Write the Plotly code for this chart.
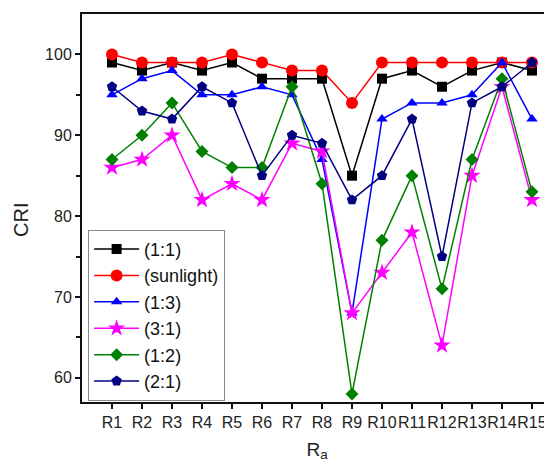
import plotly.graph_objects as go

categories = [f"R{i}" for i in range(1, 16)]
xpos = list(range(1, 16))

s_11 = [99, 98, 99, 98, 99, 97, 97, 97, 85, 97, 98, 96, 98, 99, 98]
s_sun = [100, 99, 99, 99, 100, 99, 98, 98, 94, 99, 99, 99, 99, 99, 99]
s_13 = [95, 97, 98, 95, 95, 96, 95, 87, 68, 92, 94, 94, 95, 99, 92]
s_31 = [86, 87, 90, 82, 84, 82, 89, 88, 68, 73, 78, 64, 85, 96, 82]
s_12 = [87, 90, 94, 88, 86, 86, 96, 84, 58, 77, 85, 71, 87, 97, 83]
s_21 = [96, 93, 92, 96, 94, 85, 90, 89, 82, 85, 92, 75, 94, 96, 99]

series = [
    ("(1:1)", s_11, "#000000", "square", 10),
    ("(sunlight)", s_sun, "#FF0000", "circle", 12),
    ("(1:3)", s_13, "#0000FF", "triangle-up", 10),
    ("(3:1)", s_31, "#FF00FF", "star", 13),
    ("(1:2)", s_12, "#008000", "diamond", 10),
    ("(2:1)", s_21, "#000080", "pentagon", 11),
]

FONT = "'Liberation Sans', Arial, sans-serif"

fig = go.Figure()
for name, vals, col, sym, sz in series:
    fig.add_trace(go.Scatter(
        x=xpos, y=vals, name=name, mode="lines+markers",
        line=dict(color=col, width=1.5),
        marker=dict(symbol=sym, size=sz, color=col),
    ))

fig.update_layout(
    width=552, height=465,
    margin=dict(l=74, r=8, t=6, b=71),
    plot_bgcolor="white", paper_bgcolor="white",
    font=dict(family=FONT, color="#222222", size=16),
    showlegend=True,
    legend=dict(
        x=0.013, y=0.003, xanchor="left", yanchor="bottom",
        bgcolor="white", bordercolor="#888888", borderwidth=1,
        font=dict(family=FONT, size=18, color="#111111"),
        itemwidth=45, tracegroupgap=0,
    ),
    xaxis=dict(
        range=[0, 15.667], tickmode="array", tickvals=xpos, ticktext=categories,
        showgrid=False, zeroline=False, automargin=False, tickangle=0,
        showline=True, linecolor="#111111", linewidth=2, mirror=True,
        ticks="outside", ticklen=5, tickwidth=1.5, tickcolor="#111111",
        tickfont=dict(family=FONT, size=16),
        title=dict(text="R<sub>a</sub>", font=dict(family=FONT, size=19), standoff=12),
    ),
    yaxis=dict(
        range=[57, 105], tickmode="array", tickvals=[60, 70, 80, 90, 100],
        showgrid=False, zeroline=False, automargin=False,
        showline=True, linecolor="#111111", linewidth=2,
        ticks="outside", ticklen=5, tickwidth=1.5, tickcolor="#111111",
        tickfont=dict(family=FONT, size=16),
        minor=dict(tickvals=[65, 75, 85, 95], ticks="outside", ticklen=4,
                   tickwidth=1.5, tickcolor="#111111"),
    ),
    annotations=[dict(
        text="CRI", xref="paper", yref="paper",
        x=-0.13, y=(402 - 220) / 388, xanchor="center", yanchor="middle",
        textangle=-90, showarrow=False, font=dict(family=FONT, size=20, color="#222222"),
    )],
)

fig.write_html("out.html")
